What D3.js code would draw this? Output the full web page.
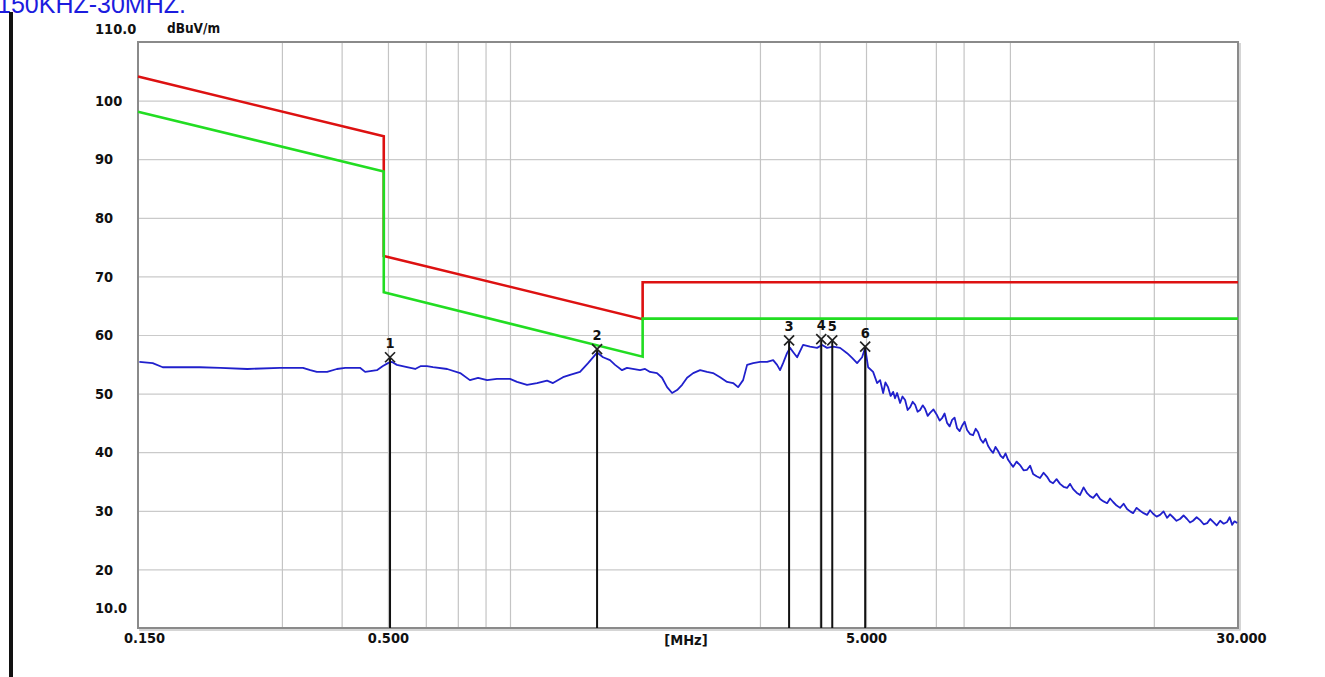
<!DOCTYPE html>
<html>
<head>
<meta charset="utf-8">
<script src="https://cdn.jsdelivr.net/npm/d3@7"></script>
<style>
  body { margin: 0; background: #ffffff; }
  svg { display: block; }
</style>
</head>
<body>
<div id="chart"></div>
<script>
var svgWidth = 1325;
var svgHeight = 677;

var margin = {
  top: 42,
  right: 87,
  bottom: 49,
  left: 138
};

var chartWidth = svgWidth - margin.left - margin.right;
var chartHeight = svgHeight - margin.top - margin.bottom;

// measured trace (MHz, dBuV/m)
var traceFreq = [0.151, 0.161, 0.169, 0.177, 0.188, 0.202, 0.223, 0.254, 0.297, 0.332,
  0.344, 0.355, 0.373, 0.391, 0.407, 0.437, 0.448, 0.474, 0.488, 0.500,
  0.510, 0.522, 0.548, 0.570, 0.586, 0.603, 0.621, 0.665, 0.708, 0.742,
  0.772, 0.806, 0.845, 0.900, 0.931, 0.977, 1.025, 1.076, 1.107, 1.162,
  1.202, 1.261, 1.311, 1.369, 1.409, 1.457, 1.493, 1.544, 1.581, 1.684,
  1.725, 1.767, 1.827, 1.872, 1.918, 1.965, 2.013, 2.062, 2.112, 2.175,
  2.249, 2.325, 2.393, 2.476, 2.561, 2.636, 2.700, 2.766, 2.820, 2.903,
  3.002, 3.105, 3.197, 3.258, 3.305, 3.354, 3.418, 3.468, 3.519, 3.588,
  3.693, 3.819, 3.950, 4.047, 4.145, 4.266, 4.413, 4.565, 4.676, 4.790,
  4.907, 4.979, 5.051, 5.174, 5.274, 5.352, 5.430, 5.49, 5.561, 5.63,
  5.697, 5.75, 5.808, 5.892, 5.96, 6.036, 6.11, 6.185, 6.26, 6.335,
  6.41, 6.488, 6.57, 6.646, 6.73, 6.808, 6.92, 7.041, 7.13, 7.212,
  7.30, 7.389, 7.48, 7.569, 7.66, 7.753, 7.85, 7.941, 8.04, 8.136,
  8.25, 8.375, 8.48, 8.579, 8.68, 8.788, 8.89, 9.000, 9.11, 9.222,
  9.33, 9.447, 9.56, 9.677, 9.79, 9.913, 10.03, 10.16, 10.33, 10.50,
  10.68, 10.86, 11.02, 11.18, 11.37, 11.56, 11.76, 11.96, 12.13, 12.31,
  12.52, 12.73, 12.95, 13.17, 13.36, 13.56, 13.79, 14.02, 14.26, 14.50,
  14.71, 14.93, 15.18, 15.44, 15.70, 15.97, 16.20, 16.44, 16.72, 17.00,
  17.29, 17.58, 17.84, 18.10, 18.41, 18.72, 19.04, 19.36, 19.64, 19.93,
  20.27, 20.61, 20.96, 21.32, 21.63, 21.94, 22.31, 22.69, 23.08, 23.47,
  23.81, 24.16, 24.58, 25.00, 25.43, 25.86, 26.24, 26.62, 27.07, 27.53,
  28.00, 28.47, 28.82, 29.17, 29.50, 29.88];

var traceLevel = [55.4, 55.2, 54.5, 54.5, 54.5, 54.5, 54.4, 54.2, 54.4, 54.4,
  54.0, 53.7, 53.7, 54.2, 54.4, 54.4, 53.7, 54.0, 54.7, 55.2,
  55.4, 54.9, 54.5, 54.2, 54.7, 54.7, 54.5, 54.2, 53.5, 52.3,
  52.7, 52.3, 52.5, 52.5, 52.0, 51.5, 51.8, 52.2, 51.8, 52.8,
  53.2, 53.7, 55.2, 57.0, 56.2, 55.7, 54.9, 54.0, 54.4, 54.0,
  54.2, 53.7, 53.5, 52.7, 51.1, 50.1, 50.6, 51.5, 52.7, 53.5,
  54.0, 53.7, 53.5, 52.8, 52.0, 51.8, 51.1, 52.3, 54.9, 55.2,
  55.4, 55.4, 55.7, 54.9, 54.0, 55.2, 56.9, 57.8, 57.1, 56.2,
  58.3, 58.0, 57.8, 58.3, 57.8, 58.0, 57.8, 56.9, 56.1, 55.2,
  56.2, 57.8, 54.5, 53.7, 51.8, 52.3, 50.1, 51.9, 51.1, 49.6,
  50.3, 49.2, 50.1, 48.4, 49.5, 48.9, 47.2, 47.7, 48.6, 48.1,
  46.9, 47.2, 48.0, 47.4, 46.2, 46.7, 47.3, 46.3, 45.4, 45.8,
  46.6, 45.0, 44.4, 45.5, 45.9, 44.1, 43.6, 44.5, 45.2, 43.8,
  43.1, 42.9, 44.0, 43.4, 42.2, 41.6, 42.3, 41.1, 40.4, 39.9,
  40.9, 40.2, 39.4, 39.0, 39.8, 38.7, 38.1, 37.5, 38.4, 37.8,
  36.9, 37.0, 37.7, 36.3, 35.9, 35.6, 36.5, 35.8, 35.0, 34.7,
  35.4, 34.6, 34.1, 33.9, 34.6, 33.7, 33.1, 32.7, 34.0, 33.0,
  32.5, 32.2, 32.9, 32.0, 31.6, 31.3, 32.1, 31.5, 30.9, 30.5,
  31.2, 30.3, 29.9, 29.6, 30.5, 30.0, 29.6, 29.3, 30.1, 29.5,
  29.0, 29.3, 29.9, 28.8, 29.4, 28.9, 28.3, 28.6, 29.2, 28.6,
  28.0, 28.3, 28.9, 28.4, 27.7, 27.9, 28.6, 28.1, 27.5, 28.3,
  27.8, 28.1, 28.9, 27.6, 28.2, 27.9];

// limit lines
var qpLimitFreq = [0.15, 0.49, 0.49, 1.705, 1.705, 30];
var qpLimitLevel = [104.1, 93.9, 73.5, 62.7, 69.0, 69.0];
var avLimitFreq = [0.15, 0.49, 0.49, 1.705, 1.705, 30];
var avLimitLevel = [98.1, 87.9, 67.3, 56.3, 62.8, 62.8];

// peak markers
var markerNo = ["1", "2", "3", "4", "5", "6"];
var markerFreq = [0.505, 1.369, 3.452, 4.03, 4.25, 4.98];
var markerLevel = [56.2, 57.6, 59.1, 59.3, 59.1, 58.0];

// ticks and grid
var yTickValues = [20, 30, 40, 50, 60, 70, 80, 90, 100];
var xGridValues = [0.3, 0.4, 0.5, 0.6, 0.7, 0.8, 0.9, 3, 4, 5, 7, 8, 10, 20];
var xLabelValues = [0.15, 0.5, 5, 30];
var xLabelText = ["0.150", "0.500", "5.000", "30.000"];

var labelFont = '"DejaVu Sans Condensed", "DejaVu Sans", sans-serif';
var labelSize = 14.5;

var svg = d3.select("#chart")
  .append("svg")
  .attr("width", svgWidth)
  .attr("height", svgHeight);

svg.append("rect")
  .attr("width", svgWidth)
  .attr("height", svgHeight)
  .attr("fill", "#ffffff");

// blue caption, cut by the top edge as in the source
svg.append("text")
  .attr("x", -3)
  .attr("y", 13)
  .attr("font-family", '"Liberation Sans", Arial, sans-serif')
  .attr("font-size", 25)
  .attr("fill", "#1c1cde")
  .text("150KHZ-30MHZ.");

// black bar on the left
svg.append("rect")
  .attr("x", 9)
  .attr("y", 12)
  .attr("width", 4)
  .attr("height", svgHeight - 12)
  .attr("fill", "#111111");

var xScale = d3.scaleLog()
  .domain([0.15, 30])
  .range([0, chartWidth]);

var yScale = d3.scaleLinear()
  .domain([10, 110])
  .range([chartHeight, 0]);

var chartGroup = svg.append("g")
  .attr("transform", `translate(${margin.left}, ${margin.top})`);

// grid
var gridY = d3.axisLeft(yScale)
  .tickValues(yTickValues)
  .tickSize(-chartWidth)
  .tickFormat("");
chartGroup.append("g")
  .call(gridY)
  .call(g => g.select(".domain").remove())
  .selectAll("line")
  .attr("stroke", "#cacaca")
  .attr("stroke-width", 1.2);

var gridX = d3.axisBottom(xScale)
  .tickValues(xGridValues)
  .tickSize(-chartHeight)
  .tickFormat("");
chartGroup.append("g")
  .attr("transform", `translate(0, ${chartHeight})`)
  .call(gridX)
  .call(g => g.select(".domain").remove())
  .selectAll("line")
  .attr("stroke", "#c4c4c4")
  .attr("stroke-width", 1.2);

// frame
chartGroup.append("rect")
  .attr("x", 0)
  .attr("y", 0)
  .attr("width", chartWidth)
  .attr("height", chartHeight)
  .attr("fill", "none")
  .attr("stroke", "#8a8a8a")
  .attr("stroke-width", 2);

chartGroup.append("path")
  .attr("d", `M${chartWidth + 2},1V${chartHeight + 2}H1`)
  .attr("fill", "none")
  .attr("stroke", "#c8c8c8")
  .attr("stroke-width", 1.5);

// y labels
var yAxis = d3.axisLeft(yScale)
  .tickValues(yTickValues)
  .tickSize(0)
  .tickFormat(d3.format("d"));
chartGroup.append("g")
  .attr("transform", `translate(${95 - margin.left}, 0)`)
  .call(yAxis)
  .call(g => g.select(".domain").remove())
  .selectAll("text")
  .attr("x", 0)
  .attr("text-anchor", "start")
  .attr("font-family", labelFont)
  .attr("font-weight", "bold")
  .attr("font-size", labelSize)
  .attr("fill", "#111111");

chartGroup.append("text")
  .attr("x", 95 - margin.left)
  .attr("y", yScale(110) - 13)
  .attr("dy", "0.35em")
  .attr("font-family", labelFont)
  .attr("font-weight", "bold")
  .attr("font-size", labelSize)
  .attr("fill", "#111111")
  .text("110.0");

chartGroup.append("text")
  .attr("x", 167 - margin.left)
  .attr("y", yScale(110) - 14)
  .attr("dy", "0.35em")
  .attr("font-family", labelFont)
  .attr("font-weight", "bold")
  .attr("font-size", 13.5)
  .attr("fill", "#111111")
  .text("dBuV/m");

chartGroup.append("text")
  .attr("x", 95 - margin.left)
  .attr("y", yScale(10) - 20)
  .attr("dy", "0.35em")
  .attr("font-family", labelFont)
  .attr("font-weight", "bold")
  .attr("font-size", labelSize)
  .attr("fill", "#111111")
  .text("10.0");

// x labels
var xAxis = d3.axisBottom(xScale)
  .tickValues(xLabelValues)
  .tickSize(0)
  .tickPadding(5)
  .tickFormat((d, i) => xLabelText[i]);
chartGroup.append("g")
  .attr("transform", `translate(0, ${chartHeight})`)
  .call(xAxis)
  .call(g => g.select(".domain").remove())
  .selectAll("text")
  .attr("dx", (d, i) => i == 0 ? 6 : (i == 3 ? 3 : 0))
  .attr("font-family", labelFont)
  .attr("font-weight", "bold")
  .attr("font-size", labelSize)
  .attr("fill", "#111111");

chartGroup.append("text")
  .attr("x", xScale(2.1))
  .attr("y", chartHeight + 17)
  .attr("text-anchor", "middle")
  .attr("font-family", labelFont)
  .attr("font-weight", "bold")
  .attr("font-size", labelSize)
  .attr("fill", "#111111")
  .text("[MHz]");

// limits
var line = d3.line()
  .x(d => xScale(d[0]))
  .y(d => yScale(d[1]));

chartGroup.append("path")
  .datum(qpLimitFreq.map((f, i) => [f, qpLimitLevel[i]]))
  .attr("d", line)
  .attr("fill", "none")
  .attr("stroke", "#dd1111")
  .attr("stroke-width", 2.6);

chartGroup.append("path")
  .datum(avLimitFreq.map((f, i) => [f, avLimitLevel[i]]))
  .attr("d", line)
  .attr("fill", "none")
  .attr("stroke", "#22dd22")
  .attr("stroke-width", 2.6);

// trace
chartGroup.append("path")
  .datum(traceFreq.map((f, i) => [f, traceLevel[i]]))
  .attr("d", line)
  .attr("fill", "none")
  .attr("stroke", "#2020cc")
  .attr("stroke-width", 1.8)
  .attr("stroke-linejoin", "round");

// markers
var markers = chartGroup.selectAll(".marker")
  .data(markerFreq.map((f, i) => ({ f: f, v: markerLevel[i], n: markerNo[i] })))
  .enter()
  .append("g")
  .attr("class", "marker")
  .attr("transform", d => `translate(${xScale(d.f)}, ${yScale(d.v)})`);

markers.append("line")
  .attr("x1", 0)
  .attr("x2", 0)
  .attr("y1", 0)
  .attr("y2", d => chartHeight - yScale(d.v))
  .attr("stroke", "#111111")
  .attr("stroke-width", 2);

markers.append("path")
  .attr("d", "M-5,-5L5,5M-5,5L5,-5")
  .attr("stroke", "#222222")
  .attr("stroke-width", 1.7);

markers.append("text")
  .attr("x", 0)
  .attr("y", -9)
  .attr("text-anchor", "middle")
  .attr("font-family", labelFont)
  .attr("font-weight", "bold")
  .attr("font-size", labelSize)
  .attr("fill", "#111111")
  .text(d => d.n);
</script>
</body>
</html>
